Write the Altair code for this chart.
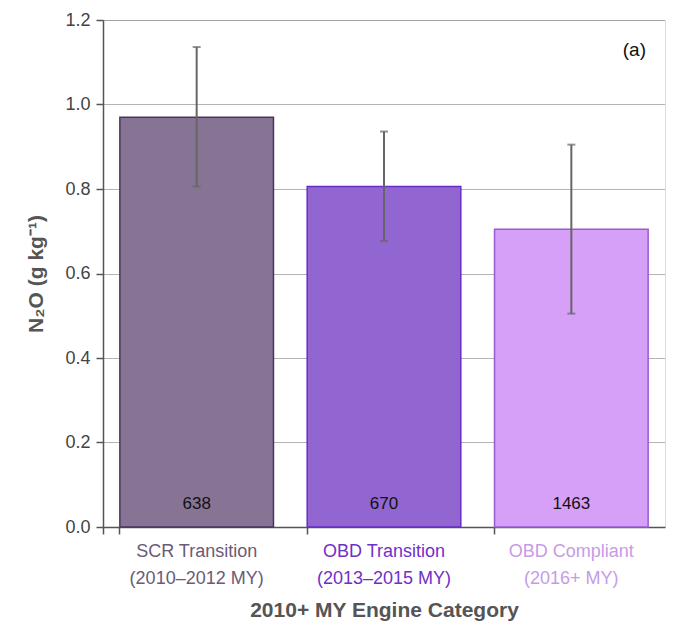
import altair as alt
import pandas as pd

categories = ["SCR Transition\n(2010–2012 MY)", "OBD Transition\n(2013–2015 MY)", "OBD Compliant\n(2016+ MY)"]
means = [0.970, 0.806, 0.705]
lower = [0.806, 0.677, 0.505]
upper = [1.136, 0.936, 0.905]
counts = ["638", "670", "1463"]
fills = ["#877494", "#9166d0", "#d6a0f8"]
strokes = ["#4a3560", "#6a2cc8", "#9a5ad0"]
label_colors = ["#6b5a78", "#7030c8", "#c69be6"]

df = pd.DataFrame({"cat": categories, "mean": means, "lo": lower, "hi": upper, "n": counts})

xscale = alt.Scale(domain=categories, paddingInner=0.18, paddingOuter=0.09)
yscale = alt.Scale(domain=[0, 1.2], nice=False)

label_cond = {
    "condition": [
        {"test": f"datum.value == {repr(categories[0])}", "value": label_colors[0]},
        {"test": f"datum.value == {repr(categories[1])}", "value": label_colors[1]},
    ],
    "value": label_colors[2],
}

x_enc = alt.X("cat:N", scale=xscale, sort=categories,
              axis=alt.Axis(title="2010+ MY Engine Category", labelAngle=0,
                            labelExpr="split(datum.label, '\\n')",
                            labelColor=label_cond, labelFontSize=18, labelLineHeight=27,
                            labelPadding=8, bandPosition=0, tickExtra=True,
                            tickSize=7, tickColor="#555", tickWidth=1.5,
                            domainColor="#555", domainWidth=1.5,
                            titleFontSize=21, titleFontWeight="bold", titleColor="#555",
                            titlePadding=12))

bars = alt.Chart(df).mark_bar(strokeWidth=1.5).encode(
    x=x_enc,
    y=alt.Y("mean:Q", scale=yscale,
            axis=alt.Axis(title="N₂O (g kg⁻¹)", values=[0, 0.2, 0.4, 0.6, 0.8, 1.0, 1.2],
                          format=".1f", labelFontSize=18, labelColor="#444", labelPadding=6,
                          tickSize=7, tickColor="#555", tickWidth=1.5,
                          domainColor="#555", domainWidth=1.5,
                          grid=True, gridDash=[1, 1], gridColor="#666", gridWidth=1,
                          titleFontSize=21, titleFontWeight="bold", titleColor="#555",
                          titlePadding=18)),
    fill=alt.Fill("cat:N", scale=alt.Scale(domain=categories, range=fills), legend=None),
    stroke=alt.Stroke("cat:N", scale=alt.Scale(domain=categories, range=strokes), legend=None),
)

rules = alt.Chart(df).mark_rule(color="#666", strokeWidth=2).encode(
    x=alt.X("cat:N", scale=xscale, sort=categories),
    y=alt.Y("lo:Q", scale=yscale),
    y2="hi:Q",
)
cap_lo = alt.Chart(df).mark_tick(color="#666", size=8, thickness=2, orient="horizontal").encode(
    x=alt.X("cat:N", scale=xscale, sort=categories),
    y=alt.Y("lo:Q", scale=yscale),
)
cap_hi = alt.Chart(df).mark_tick(color="#666", size=8, thickness=2, orient="horizontal").encode(
    x=alt.X("cat:N", scale=xscale, sort=categories),
    y=alt.Y("hi:Q", scale=yscale),
)
ntext = alt.Chart(df).mark_text(fontSize=17, color="#111", baseline="middle", dy=-23).encode(
    x=alt.X("cat:N", scale=xscale, sort=categories),
    y=alt.datum(0),
    text="n:N",
)
panel = alt.Chart(pd.DataFrame({"t": ["(a)"]})).mark_text(fontSize=19, color="#111", align="right", baseline="middle").encode(
    x=alt.value(543), y=alt.value(30), text="t:N"
)

chart = alt.layer(bars, rules, cap_lo, cap_hi, ntext, panel).properties(
    width=562, height=507,
    padding={"left": 17, "top": 3, "right": 4, "bottom": 5},
).configure_view(stroke="#555", strokeWidth=1.5).configure(font="Liberation Sans")

chart.save("out.html", embed_options={"renderer": "svg", "actions": False})
